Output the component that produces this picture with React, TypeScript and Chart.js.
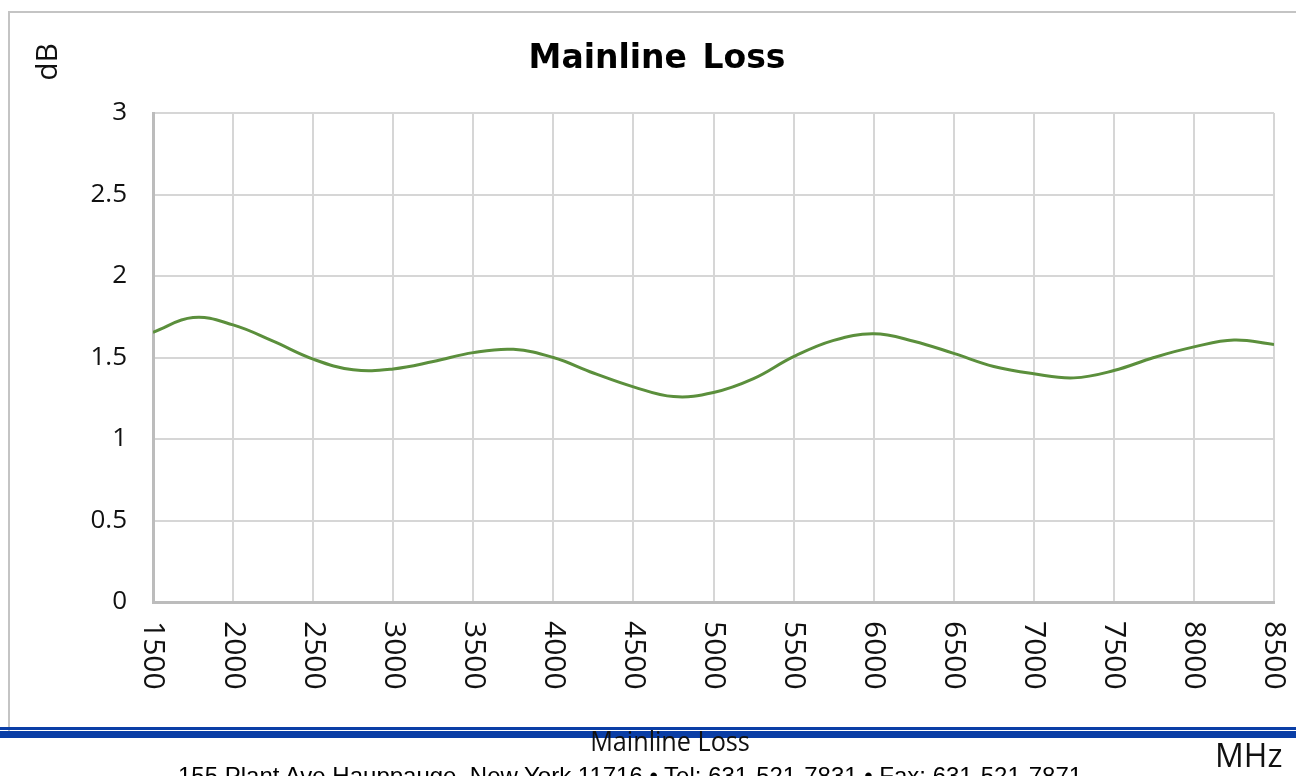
import React, { useEffect, useRef } from "react";
import { Chart, registerables } from "chart.js";

Chart.register(...registerables);

const TITLE = "Mainline Loss";
const Y_LABEL = "dB";
const X_LABEL = "MHz";
const FOOTER = "155 Plant Ave Hauppauge, New York 11716 \u2022 Tel: 631-521-7831 \u2022 Fax: 631-521-7871";

const freqs = [
  1500, 1750, 2000, 2250, 2500, 2750, 3000, 3250, 3500, 3750, 4000, 4250, 4500, 4750, 5000,
  5250, 5500, 5750, 6000, 6250, 6500, 6750, 7000, 7250, 7500, 7750, 8000, 8250, 8500,
];
const lossDb = [
  1.655, 1.745, 1.7, 1.6, 1.49, 1.425, 1.43, 1.475, 1.53, 1.55, 1.5, 1.405, 1.32, 1.26, 1.285,
  1.37, 1.505, 1.605, 1.645, 1.6, 1.525, 1.445, 1.4, 1.375, 1.42, 1.5, 1.565, 1.607, 1.58,
];

const X_MIN = 1500;
const X_MAX = 8500;
const X_STEP = 500;
const Y_MIN = 0;
const Y_MAX = 3;
const Y_STEP = 0.5;

const xLabelPlugin = {
  id: "xRotLabels",
  afterDraw(chart: any) {
    const sc = chart.scales.x;
    const ctx = chart.ctx;
    ctx.save();
    ctx.fillStyle = "#111";
    ctx.font = "30px 'Open Sans'";
    ctx.textAlign = "left";
    ctx.textBaseline = "middle";
    for (const t of sc.ticks) {
      const x = sc.getPixelForValue(t.value);
      ctx.save();
      ctx.translate(x, chart.chartArea.bottom + 19);
      ctx.rotate(Math.PI / 2);
      ctx.fillText(String(t.value), 0, 0);
      ctx.restore();
    }
    ctx.restore();
  },
};

export default function App() {
  const ref = useRef<HTMLCanvasElement | null>(null);
  useEffect(() => {
    if (!ref.current) return;
    const chart = new Chart(ref.current, {
      type: "line",
      data: {
        datasets: [
          {
            data: freqs.map((f, i) => ({ x: f, y: lossDb[i] })),
            borderColor: "#5b8f3c",
            borderWidth: 3,
            pointRadius: 0,
            tension: 0.4,
            fill: false,
          },
        ],
      },
      options: {
        animation: false,
        responsive: false,
        layout: { padding: { left: 0, top: 113, right: 22, bottom: 0 } },
        plugins: { legend: { display: false }, title: { display: false }, tooltip: { enabled: false } },
        scales: {
          x: {
            type: "linear",
            min: X_MIN,
            max: X_MAX,
            ticks: { stepSize: X_STEP, display: false },
            grid: { color: "#d6d6d6", lineWidth: 2, drawTicks: false },
            border: { color: "#bcbcbc", width: 3 },
            afterFit(scale: any) {
              scale.height = 174;
            },
          },
          y: {
            min: Y_MIN,
            max: Y_MAX,
            ticks: {
              stepSize: Y_STEP,
              padding: 26,
              color: "#111",
              font: { family: "'Open Sans'", size: 26 },
              callback: (v: any) => String(Number(v)),
            },
            grid: { color: "#d6d6d6", lineWidth: 2, drawTicks: false },
            border: { color: "#bcbcbc", width: 3 },
            afterFit(scale: any) {
              scale.width = 153;
            },
          },
        },
      },
      plugins: [xLabelPlugin],
    } as any);
    return () => chart.destroy();
  }, []);

  return (
    <div
      style={{
        position: "fixed",
        left: 0,
        top: 0,
        width: 1296,
        height: 776,
        overflow: "hidden",
        background: "#fff",
      }}
    >
      <div
        style={{
          position: "absolute",
          left: 8,
          top: 11,
          width: 1400,
          height: 724,
          borderLeft: "2px solid #c4c4c4",
          borderTop: "2px solid #c4c4c4",
        }}
      />
      <canvas
        ref={ref}
        width={1296}
        height={776}
        style={{ position: "absolute", left: 0, top: 0, width: 1296, height: 776 }}
      />
      <div
        style={{
          position: "absolute",
          left: 0,
          width: 1314,
          top: 37,
          textAlign: "center",
          fontFamily: "'DejaVu Sans'",
          fontWeight: "bold",
          fontSize: 33,
          lineHeight: "40px",
          color: "#000",
          wordSpacing: 4,
        }}
      >
        {TITLE}
      </div>
      <div
        style={{
          position: "absolute",
          left: 46,
          top: 62,
          transform: "translate(-50%, -50%) rotate(-90deg)",
          fontFamily: "'Open Sans'",
          fontSize: 30,
          lineHeight: "30px",
          color: "#111",
          whiteSpace: "nowrap",
        }}
      >
        {Y_LABEL}
      </div>
      <div style={{ position: "absolute", left: 0, top: 727, width: 1296, height: 2.5, background: "#0a3ea6" }} />
      <div style={{ position: "absolute", left: 0, top: 731, width: 1296, height: 7, background: "#0a3ea6" }} />
      <div
        style={{
          position: "absolute",
          left: 670,
          top: 721,
          transform: "translateX(-50%) scaleX(0.9)",
          fontFamily: "'Open Sans'",
          fontSize: 28,
          lineHeight: "38px",
          color: "#111",
          whiteSpace: "nowrap",
        }}
      >
        Mainline Loss
      </div>
      <div
        style={{
          position: "absolute",
          left: 1215,
          top: 733,
          fontFamily: "'Open Sans'",
          fontSize: 32,
          lineHeight: "44px",
          color: "#111",
          whiteSpace: "nowrap",
        }}
      >
        {X_LABEL}
      </div>
      <div
        style={{
          position: "absolute",
          left: 178,
          top: 762,
          fontFamily: "'Liberation Sans', Arial",
          fontSize: 24,
          lineHeight: "27px",
          color: "#000",
          whiteSpace: "nowrap",
        }}
      >
        {FOOTER}
      </div>
    </div>
  );
}
